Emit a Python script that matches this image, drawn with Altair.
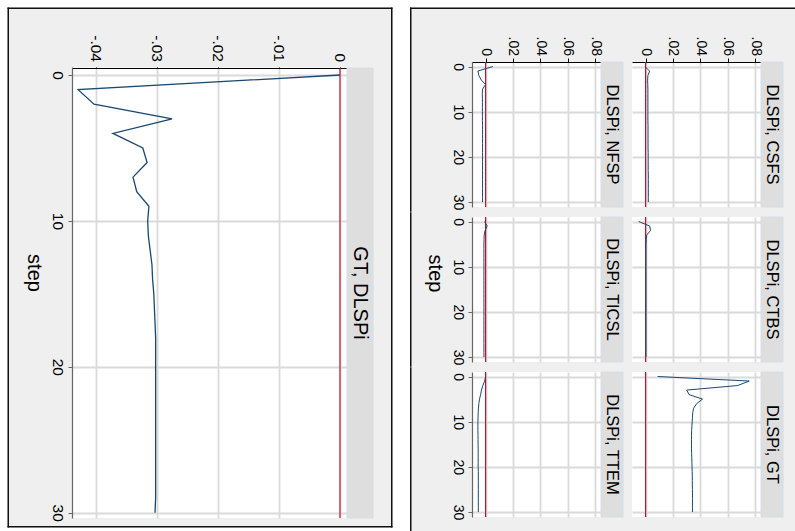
import altair as alt
import pandas as pd

# ---- data: impulse responses over 31 steps ----
steps = list(range(31))

gt_dlspi = [0.0, -0.0429, -0.0403, -0.0275, -0.0372, -0.0323, -0.0316, -0.0339,
            -0.0333, -0.0313, -0.0315, -0.0314, -0.0311, -0.0308, -0.0307, -0.0305,
            -0.0304, -0.0303, -0.0302, -0.0302, -0.0302, -0.0302, -0.0302, -0.0302,
            -0.0302, -0.0302, -0.0302, -0.0302, -0.0302, -0.0302, -0.0303]

dlspi_nfsp = [0.0053, -0.0056, -0.0049, -0.0031, 0.0, -0.0022, -0.0024, -0.0023,
              -0.0023, -0.0023, -0.0023, -0.0023, -0.0023, -0.0022, -0.0022, -0.0022,
              -0.0022, -0.0022, -0.0022, -0.0022, -0.0022, -0.0022, -0.0022, -0.0022,
              -0.0022, -0.0022, -0.0022, -0.0022, -0.0022, -0.0022, -0.0022]

dlspi_csfs = [-0.0005, 0.0030, 0.0017, 0.0015, 0.0016, 0.0017, 0.0017, 0.0017,
              0.0017, 0.0017, 0.0017, 0.0017, 0.0017, 0.0018, 0.0018, 0.0018,
              0.0018, 0.0018, 0.0018, 0.0019, 0.0019, 0.0019, 0.0019, 0.0019,
              0.0020, 0.0020, 0.0020, 0.0020, 0.0020, 0.0020, 0.0020]

dlspi_ticsl = [-0.0008, 0.0012, -0.0004, -0.0010, -0.0011, -0.0012, -0.0012, -0.0012,
               -0.0012, -0.0012, -0.0012, -0.0012, -0.0012, -0.0012, -0.0012, -0.0012,
               -0.0012, -0.0012, -0.0012, -0.0012, -0.0012, -0.0012, -0.0012, -0.0012,
               -0.0012, -0.0012, -0.0012, -0.0012, -0.0012, -0.0012, -0.0012]

dlspi_ctbs = [-0.0050, 0.0030, 0.0036, 0.0008, 0.0005, 0.0003, 0.0003, 0.0003,
              0.0003, 0.0003, 0.0003, 0.0003, 0.0003, 0.0003, 0.0003, 0.0003,
              0.0003, 0.0003, 0.0003, 0.0003, 0.0003, 0.0003, 0.0003, 0.0003,
              0.0003, 0.0003, 0.0003, 0.0003, 0.0003, 0.0003, 0.0003]

dlspi_ttem = [0.0, -0.0007, -0.0020, -0.0030, -0.0036, -0.0044, -0.0049, -0.0052,
              -0.0054, -0.0055, -0.0056, -0.0056, -0.0056, -0.0055, -0.0055, -0.0055,
              -0.0054, -0.0054, -0.0054, -0.0054, -0.0054, -0.0053, -0.0053, -0.0053,
              -0.0053, -0.0053, -0.0053, -0.0053, -0.0053, -0.0053, -0.0053]

dlspi_gt = [0.0088, 0.0756, 0.0671, 0.0300, 0.0317, 0.0415, 0.0373, 0.0351,
            0.0344, 0.0342, 0.0340, 0.0338, 0.0336, 0.0335, 0.0335, 0.0335,
            0.0335, 0.0336, 0.0337, 0.0338, 0.0339, 0.0340, 0.0341, 0.0341,
            0.0341, 0.0342, 0.0342, 0.0342, 0.0342, 0.0342, 0.0342]

left_title = "GT, DLSPi"
grid_titles = [["DLSPi, NFSP", "DLSPi, CSFS"],
               ["DLSPi, TICSL", "DLSPi, CTBS"],
               ["DLSPi, TTEM", "DLSPi, GT"]]
grid_series = [[dlspi_nfsp, dlspi_csfs],
               [dlspi_ticsl, dlspi_ctbs],
               [dlspi_ttem, dlspi_gt]]

left_ticks = [-0.04, -0.03, -0.02, -0.01, 0]
grid_ticks = [0, 0.02, 0.04, 0.06, 0.08]
step_ticks = [0, 10, 20, 30]
zero_line = [0]

# ---- styling ----
FONT = "Liberation Sans, Arial, Helvetica, sans-serif"
LINE = "#1a476f"
ZERO = "#c8102e"
GRID = "#dadada"
BOX_BG = "#efefef"
STRIP = "#dedede"
STRIP_EDGE = "#d3dee8"
FRAME = "#111111"

LABEL_EXPR = ("datum.value == 0 ? '0' : (datum.value < 0 ? '-' : '') + "
              "replace(format(abs(datum.value), '.2f'), '0.', '.')")

one = pd.DataFrame({"k": [0]})


def rect(x0, x1, y0, y1, ox, oy, color, opacity=1.0, stroke=None):
    """Rectangle given in page pixels, placed relative to a view origin (ox, oy)."""
    kw = dict(opacity=opacity)
    if stroke:
        kw.update(stroke=stroke, strokeWidth=1)
    return alt.Chart(one).mark_rect(**kw).encode(
        x=alt.value(x0 - ox), x2=alt.value(x1 - ox),
        y=alt.value(y0 - oy), y2=alt.value(y1 - oy),
        color=alt.value(color),
    )


def panel(values, title, ox, oy, w, h, strip_w, xdom, ydom, xticks,
          show_x, show_y, step_title, title_xy, label_size, strip_size,
          line_w, cell, extras, top_gap=0):
    df = pd.DataFrame({"step": steps, "value": values})
    zdf = pd.DataFrame({"z": zero_line})
    tdf = pd.DataFrame({"label": [title]})

    grid_kw = dict(gridColor=GRID, gridWidth=1.8)
    if show_x:
        xaxis = alt.Axis(orient="top", values=xticks, labelExpr=LABEL_EXPR,
                         labelAngle=90, labelAlign="right", labelBaseline="middle",
                         labelFontSize=label_size, labelPadding=2.5, labelFlush=False,
                         labelOverlap=False, tickSize=4, tickColor="black",
                         domainColor="black", domainWidth=1.2, title=None,
                         offset=-top_gap, **grid_kw)
    else:
        xaxis = alt.Axis(orient="top", values=xticks, labels=False, ticks=False,
                         domain=False, title=None, **grid_kw)

    if show_y:
        yargs = dict(orient="left", values=step_ticks, labelAngle=90,
                     labelAlign="center", labelBaseline="top",
                     labelFontSize=label_size, labelPadding=4, labelFlush=False,
                     labelOverlap=False, tickSize=4, tickColor="#666666",
                     domainColor="#666666", domainWidth=1.2, **grid_kw)
        if step_title:
            yargs.update(title="step", titleAngle=90, titleFontSize=20,
                         titleFontWeight="normal", titleAlign="center",
                         titleBaseline="middle", titleX=title_xy[0] - ox,
                         titleY=title_xy[1] - oy)
        else:
            yargs.update(title=None)
        yaxis = alt.Axis(**yargs)
    else:
        yaxis = alt.Axis(orient="left", values=step_ticks, labels=False,
                         ticks=False, domain=False, title=None, **grid_kw)

    xs = alt.Scale(domain=xdom, nice=False, zero=False)
    ys = alt.Scale(domain=ydom, nice=False, zero=False, reverse=True)

    layers = [rect(cell[0], cell[1], cell[2], cell[3], ox, oy, "#ffffff", opacity=0)]
    layers += [rect(*r[:4], ox, oy, r[4]) for r in extras]
    if top_gap:
        # band above the value axis keeps the page colour
        layers.append(rect(ox - 2, ox + w, oy, oy + top_gap - 0.6, ox, oy, BOX_BG))
    layers.append(rect(ox + w, ox + w + strip_w, oy + top_gap, oy + h, ox, oy, STRIP,
                       stroke=STRIP_EDGE))
    layers.append(
        alt.Chart(tdf).mark_text(angle=90, font=FONT, fontSize=strip_size,
                                 color="black", align="center", baseline="middle")
        .encode(text="label:N", x=alt.value(w + strip_w / 2 - 0.5),
                y=alt.value((h + top_gap) / 2))
    )
    layers.append(
        alt.Chart(zdf).mark_rule(color=ZERO, strokeWidth=1.2)
        .encode(x=alt.X("z:Q", scale=xs, axis=xaxis),
                y=alt.value(top_gap), y2=alt.value(h))
    )
    layers.append(
        alt.Chart(df).mark_line(color=LINE, strokeWidth=line_w)
        .encode(x=alt.X("value:Q", scale=xs, axis=xaxis),
                y=alt.Y("step:Q", scale=ys, axis=yaxis),
                order="step:Q")
    )
    return alt.layer(*layers).properties(width=w, height=h)


# ---- left box: single large panel ----
W_PAGE, H_PAGE = 795, 531
left_extras = [
    (0, 7.5, 0, H_PAGE, "#ffffff"),
    (0, 410, 0, 7.5, "#ffffff"),
    (0, 410, 527.5, H_PAGE, "#ffffff"),
    (392.5, 410, 0, H_PAGE, "#ffffff"),
    (7.5, 9, 7.5, 527.5, FRAME),
    (7.5, 392.5, 7.5, 9, FRAME),
    (391, 392.5, 7.5, 527.5, FRAME),
    (7.5, 392.5, 526, 527.5, FRAME),
]
# view origin shares the top edge of the right-hand grid; the value axis sits 6px lower
left = panel(gt_dlspi, left_title, 72, 62, 275, 456, 26,
             [-0.0439, 0.00115], [-0.892, 30.36], left_ticks,
             True, True, True, (33, 272.5), 15.5, 20, 1.3,
             (0, 410, 0, H_PAGE), left_extras, top_gap=6)

# ---- right box: 3 x 2 grid of small panels ----
col_x = [472, 632]
col_cell = [(410, 627), (627, W_PAGE)]
row_y = [62, 216.5, 371]
row_cell = [(0, 211.75), (211.75, 366.25), (366.25, H_PAGE)]

rows = []
for r in range(3):
    cells = []
    for c in range(2):
        cx0, cx1 = col_cell[c]
        cy0, cy1 = row_cell[r]
        extras = []
        if r == 0:
            extras.append((cx0, cx1, 0, 7.5, "#ffffff"))
            extras.append((cx0, cx1, 7.5, 9, FRAME))
        if c == 0:
            extras.append((410, 411.5, max(cy0, 7.5), cy1, FRAME))
        cells.append(panel(grid_series[r][c], grid_titles[r][c], col_x[c], row_y[r],
                           129, 145, 22, [-0.0099, 0.0842], [-1, 31.1], grid_ticks,
                           r == 0, c == 0, (r == 1 and c == 0), (434, 272.5),
                           14, 16.5, 1.0, (cx0, cx1, cy0, cy1), extras))
    rows.append(alt.hconcat(*cells, spacing=0, bounds="full"))

right = alt.vconcat(*rows, spacing=0, bounds="full")

chart = (
    alt.hconcat(left, right, spacing=0, bounds="full")
    .properties(padding=0, background=BOX_BG)
    .configure_view(fill="white", stroke="transparent", strokeWidth=0)
    .configure_axis(labelFont=FONT, titleFont=FONT, labelColor="black",
                    titleColor="black")
)

chart.save("out.html", embed_options={"renderer": "svg", "actions": False})
